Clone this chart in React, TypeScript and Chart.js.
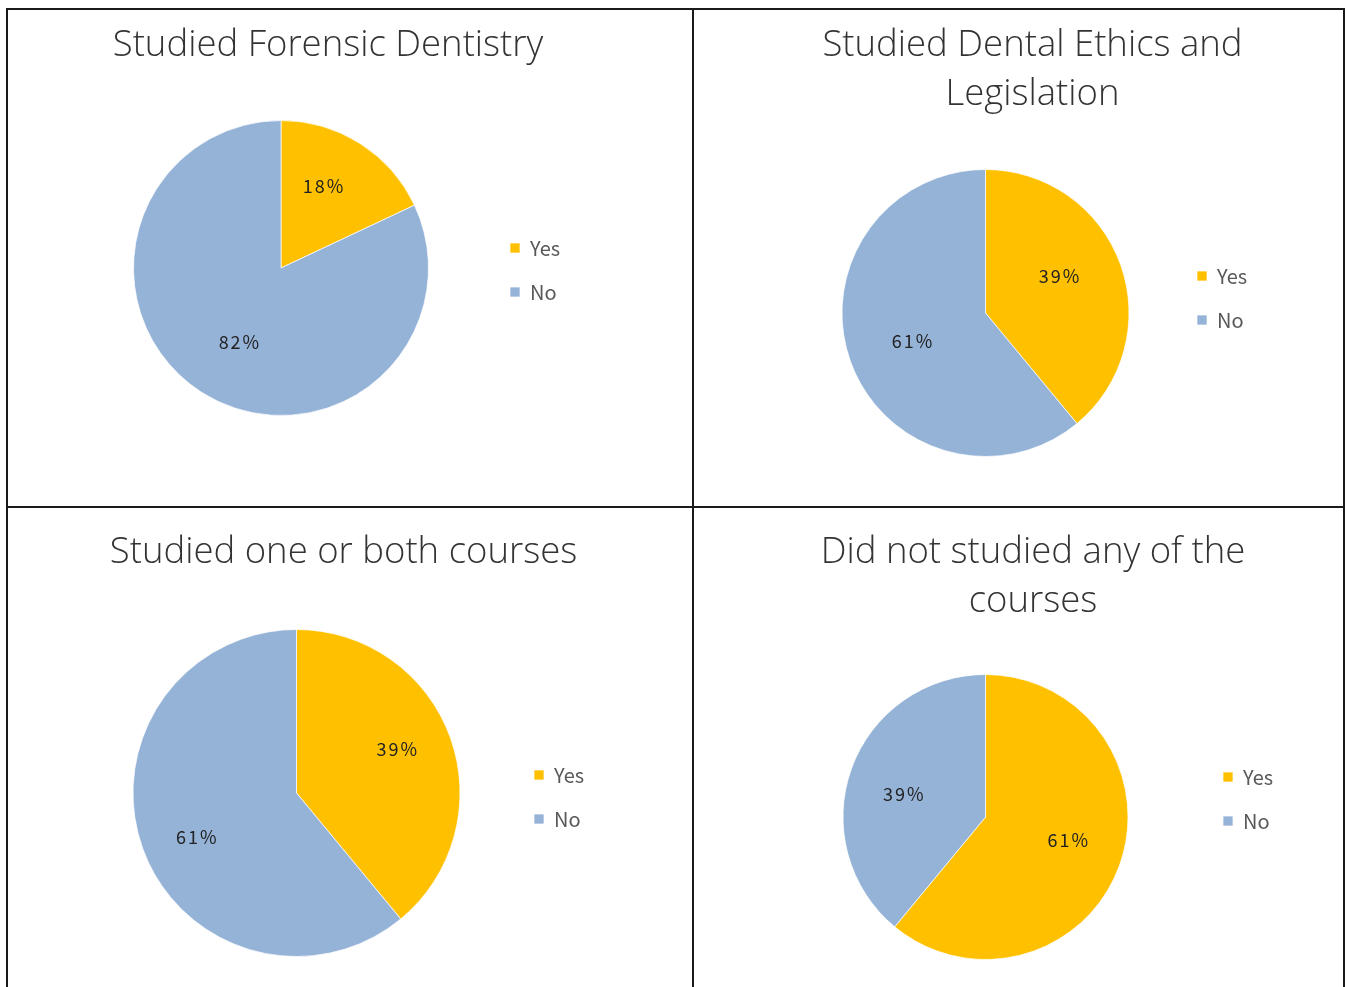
import React, { useEffect, useRef } from 'react';
import { Chart, registerables } from 'chart.js';

Chart.register(...registerables);

// ---------- data ----------
const categories = ['Yes', 'No'];
const forensicValues = [18, 82];
const ethicsValues = [39, 61];
const oneOrBothValues = [39, 61];
const noneValues = [61, 39];
const titleForensic = ['Studied Forensic Dentistry'];
const titleEthics = ['Studied Dental Ethics and', 'Legislation'];
const titleOneOrBoth = ['Studied one or both courses'];
const titleNone = ['Did not studied any of the', 'courses'];

// ---------- style ----------
const YES_COLOR = '#FFC000';
const NO_COLOR = '#95B3D7';
const TITLE_FONT = '"Open Sans", Lato, sans-serif';
const TEXT_FONT = '"Noto Sans CJK KR", "Noto Sans", sans-serif';
const TITLE_SIZE = 36.5;
const TITLE_LH = 49;
const LEGEND_SIZE = 20;
const LEGEND_PAD = 24;
const BOX = 10;
const LABEL_ANGLE_SHIFT = (-4 * Math.PI) / 180;

type PanelCfg = {
  values: number[];
  title: string[];
  canvas: { left: number; top: number; width: number; height: number };
  titleX: number;
  titleY: number;
  cx: number;
  cy: number;
  r: number;
  legendX: number;
  legendY: number;
  labelFactor: number;
  labelDy: number;
};

const PANELS: PanelCfg[] = [
  {
    values: forensicValues, title: titleForensic,
    canvas: { left: 8, top: 10, width: 684, height: 496 },
    titleX: 328, titleY: 46, cx: 281, cy: 268, r: 148, legendX: 510, legendY: 248,
    labelFactor: 0.6, labelDy: -4,
  },
  {
    values: ethicsValues, title: titleEthics,
    canvas: { left: 694, top: 10, width: 649, height: 496 },
    titleX: 1032.5, titleY: 46, cx: 985.5, cy: 313, r: 144, legendX: 1197, legendY: 276,
    labelFactor: 0.56, labelDy: -4,
  },
  {
    values: oneOrBothValues, title: titleOneOrBoth,
    canvas: { left: 8, top: 508, width: 684, height: 479 },
    titleX: 343.5, titleY: 553, cx: 296.5, cy: 793, r: 164, legendX: 534, legendY: 775,
    labelFactor: 0.67, labelDy: 0,
  },
  {
    values: noneValues, title: titleNone,
    canvas: { left: 694, top: 508, width: 649, height: 479 },
    titleX: 1033, titleY: 553, cx: 985.5, cy: 817, r: 143, legendX: 1223, legendY: 777,
    labelFactor: 0.6, labelDy: 0,
  },
];

const sliceLabels = {
  id: 'sliceLabels',
  afterDatasetsDraw(chart: any, _args: any, opts: any) {
    const ctx = chart.ctx;
    const meta = chart.getDatasetMeta(0);
    const ds = chart.data.datasets[0];
    ctx.save();
    ctx.font = `18px ${TEXT_FONT}`;
    (ctx as any).letterSpacing = '2px';
    ctx.fillStyle = '#222222';
    ctx.textAlign = 'center';
    ctx.textBaseline = 'middle';
    meta.data.forEach((arc: any, i: number) => {
      const p = arc.getProps(['x', 'y', 'startAngle', 'endAngle', 'outerRadius'], true);
      const mid = (p.startAngle + p.endAngle) / 2 + LABEL_ANGLE_SHIFT;
      const rr = p.outerRadius * (opts.factor || 0.6);
      ctx.fillText(`${ds.data[i]}%`, p.x + Math.cos(mid) * rr + 1, p.y + Math.sin(mid) * rr + (opts.dy || 0));
    });
    ctx.restore();
  },
};

function PiePanel({ cfg }: { cfg: PanelCfg }) {
  const ref = useRef<HTMLCanvasElement | null>(null);
  useEffect(() => {
    const c = cfg.canvas;
    const nLines = cfg.title.length;
    const tPadTop = cfg.titleY - c.top - TITLE_LH / 2;
    const tPadBottom = cfg.cy - cfg.r - (c.top + tPadTop + nLines * TITLE_LH);
    const itemH = Math.max(LEGEND_SIZE, BOX);
    const lTitleH = cfg.legendY - itemH / 2 - LEGEND_PAD - (cfg.cy - cfg.r);
    const padBottom = c.top + c.height - (cfg.cy + cfg.r);
    const gap = { w: 0 };

    const chart = new Chart(ref.current as HTMLCanvasElement, {
      type: 'pie',
      data: {
        labels: categories,
        datasets: [
          {
            data: cfg.values,
            backgroundColor: [YES_COLOR, NO_COLOR],
            borderColor: 'rgba(255,255,255,0.7)',
            borderWidth: 1,
          },
        ],
      },
      options: {
        responsive: false,
        animation: false,
        layout: { padding: { top: 0, bottom: padBottom, left: 0, right: 0 } },
        scales: {
          gap: {
            type: 'linear',
            position: 'right',
            display: true,
            grid: { display: false },
            border: { display: false },
            ticks: { display: false },
            afterFit: (s: any) => {
              s.width = gap.w;
            },
          },
        } as any,
        plugins: {
          title: {
            display: true,
            text: cfg.title,
            color: '#333333',
            font: { family: TITLE_FONT, size: TITLE_SIZE, weight: 300 as any, lineHeight: TITLE_LH / TITLE_SIZE },
            padding: { top: tPadTop, bottom: tPadBottom },
          },
          legend: {
            position: 'right',
            align: 'start',
            fullSize: false,
            labels: {
              boxWidth: BOX,
              boxHeight: BOX,
              padding: LEGEND_PAD,
              color: '#595959',
              font: { family: TEXT_FONT, size: LEGEND_SIZE },
            },
            title: {
              display: true,
              text: '',
              padding: { top: lTitleH - 1, bottom: 0 },
              font: { size: 1, lineHeight: 1 },
            },
          },
          tooltip: { enabled: false },
          sliceLabels: { factor: cfg.labelFactor, dy: cfg.labelDy },
        } as any,
      },
      plugins: [sliceLabels],
    });

    const lw = (chart as any).legend.width;
    gap.w = Math.max(0, 2 * (cfg.titleX - cfg.cx) - lw);
    const legendLeft = cfg.legendX - LEGEND_PAD - c.left;
    const padRight = c.width - legendLeft - lw;
    const chartRight = legendLeft - gap.w;
    const padLeft = 2 * (cfg.cx - c.left) - chartRight;
    (chart.options as any).layout.padding = { top: 0, bottom: padBottom, left: padLeft, right: padRight };
    chart.update();

    return () => chart.destroy();
  }, [cfg]);

  const c = cfg.canvas;
  return (
    <canvas
      ref={ref}
      width={c.width}
      height={c.height}
      style={{ position: 'absolute', left: c.left, top: c.top, width: c.width, height: c.height }}
    />
  );
}

const LINE = '#1a1a1a';

export default function App() {
  return (
    <div
      style={{
        position: 'absolute',
        left: 0,
        top: 0,
        width: 1349,
        height: 987,
        overflow: 'hidden',
        background: '#ffffff',
      }}
    >
      {PANELS.map((p, i) => (
        <PiePanel key={i} cfg={p} />
      ))}
      <div style={{ position: 'absolute', left: 6, top: 8, width: 1339, height: 2, background: LINE }} />
      <div style={{ position: 'absolute', left: 6, top: 506, width: 1339, height: 2, background: LINE }} />
      <div style={{ position: 'absolute', left: 6, top: 8, width: 2, height: 979, background: LINE }} />
      <div style={{ position: 'absolute', left: 692, top: 8, width: 2, height: 979, background: LINE }} />
      <div style={{ position: 'absolute', left: 1343, top: 8, width: 2, height: 979, background: LINE }} />
    </div>
  );
}
